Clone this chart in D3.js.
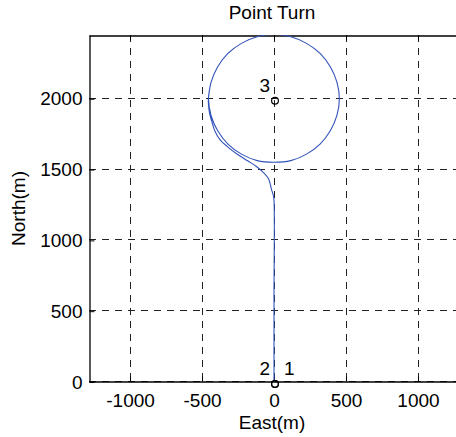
<!DOCTYPE html>
<html lang="en">

<head>
  <meta charset="UTF-8" />
  <title>Point Turn</title>
  <style>
    body { margin: 0; background: #fff; }
    text { font-family: "Liberation Sans", Arial, Helvetica, sans-serif; fill: #000; }
  </style>
  <script src="https://d3js.org/d3.v7.min.js"></script>
</head>

<body>
  <div id="chart"></div>

  <script>
    var w = 456;
    var h = 437;

    // track (metres)
    var approachEast = [0, 0, 0, -5, -16, -40, -80, -120, -180, -247, -310, -374, -410, -432, -448, -455, -456];
    var approachNorth = [0, 600, 1284, 1320, 1355, 1438, 1485, 1520, 1560, 1603, 1650, 1709, 1770, 1840, 1900, 1960, 2004];

    // the loop round waypoint 3, clockwise from the west side
    var loopEast = [-455, -437, -391, -320, -226, -117, 0, 117, 226, 320, 391, 437, 454, 437, 391, 320, 226, 117, 0, -117, -226, -320, -391, -437, -455, -450];
    var loopNorth = [2010, 2117, 2226, 2320, 2391, 2437, 2455, 2437, 2391, 2320, 2226, 2117, 2000, 1883, 1774, 1680, 1609, 1563, 1552, 1563, 1609, 1680, 1774, 1880, 2000, 2050];

    var wpNames = ["1", "2", "3"];
    var wpEast = [0, 0, 0];
    var wpNorth = [0, 0, 2000];

    var xTicks = [-1000, -500, 0, 500, 1000];
    var yTicks = [0, 500, 1000, 1500, 2000];

    var pLeft = 89, pTop = 35, pRight = 459, pBottom = 382;
    var fs = "19px";

    var x = d3.scaleLinear().domain([-1285, 1285]).range([pLeft, pRight]);
    var y = d3.scaleLinear().domain([0, 2450]).range([pBottom, pTop]);

    var svg = d3.select("#chart").append("svg")
      .attr("width", w)
      .attr("height", h);

    svg.append("clipPath").attr("id", "plotclip")
      .append("rect")
      .attr("x", pLeft).attr("y", pTop)
      .attr("width", pRight - pLeft).attr("height", pBottom - pTop);

    // grid
    svg.append("g").selectAll("line")
      .data(xTicks)
      .enter()
      .append("line")
      .attr("x1", function(d) { return Math.round(x(d)) + 0.5; })
      .attr("x2", function(d) { return Math.round(x(d)) + 0.5; })
      .attr("y1", pTop)
      .attr("y2", pBottom)
      .attr("stroke", "#222")
      .attr("stroke-dasharray", "7,6");

    svg.append("g").selectAll("line")
      .data(yTicks)
      .enter()
      .append("line")
      .attr("y1", function(d) { return Math.round(y(d)) - 0.5; })
      .attr("y2", function(d) { return Math.round(y(d)) - 0.5; })
      .attr("x1", pLeft)
      .attr("x2", pRight)
      .attr("stroke", "#222")
      .attr("stroke-dasharray", "7,6");

    // axes box
    var fmt = function(d) { return String(d); };
    var xAxis = d3.axisBottom(x).tickValues(xTicks).tickFormat(fmt).tickSizeInner(-5).tickSizeOuter(0).tickPadding(12);
    var yAxis = d3.axisLeft(y).tickValues(yTicks).tickFormat(fmt).tickSizeInner(-5).tickSizeOuter(0).tickPadding(7);

    var gx = svg.append("g").attr("transform", "translate(0," + (pBottom - 0.5) + ")").call(xAxis);
    var gy = svg.append("g").attr("transform", "translate(" + (pLeft + 0.5) + ",0)").call(yAxis);
    svg.append("g").attr("transform", "translate(0," + (pTop + 0.5) + ")")
      .call(d3.axisTop(x).tickValues(xTicks).tickSizeInner(-5).tickSizeOuter(0).tickFormat(""));

    svg.selectAll(".domain").attr("stroke", "#000").attr("stroke-width", 1.3);
    svg.selectAll(".tick line").attr("stroke", "#000");
    gx.selectAll("text").style("font-size", fs).attr("dy", "0.71em");
    gy.selectAll("text").style("font-size", fs);

    // track
    var line = d3.line()
      .x(function(d) { return x(d[0]); })
      .y(function(d) { return y(d[1]); })
      .curve(d3.curveCatmullRom);

    var track = d3.zip(approachEast, approachNorth).concat(d3.zip(loopEast, loopNorth));

    svg.append("path")
      .datum(track)
      .attr("clip-path", "url(#plotclip)")
      .attr("d", line)
      .attr("fill", "none")
      .attr("stroke", "#3152b8")
      .attr("stroke-width", 1.1);

    // waypoints
    var wps = d3.zip(wpNames, wpEast, wpNorth);

    svg.selectAll("circle.wp")
      .data(wps)
      .enter()
      .append("circle")
      .attr("class", "wp")
      .attr("cx", function(d) { return x(d[1]) + 1; })
      .attr("cy", function(d) { return y(d[2]) + 2; })
      .attr("r", 3.4)
      .attr("fill", "none")
      .attr("stroke", "#000")
      .attr("stroke-width", 1.2);

    svg.selectAll("text.wp")
      .data(wps)
      .enter()
      .append("text")
      .attr("class", "wp")
      .attr("x", function(d) { return d[0] == "1" ? x(d[1]) + 10 : x(d[1]) - 4; })
      .attr("y", function(d) { return y(d[2]) - 7; })
      .attr("text-anchor", function(d) { return d[0] == "1" ? "start" : "end"; })
      .style("font-size", fs)
      .text(function(d) { return d[0]; });

    // labels
    svg.append("text")
      .attr("x", 272).attr("y", 19)
      .attr("text-anchor", "middle")
      .style("font-size", fs)
      .text("Point Turn");

    svg.append("text")
      .attr("x", 272).attr("y", 429)
      .attr("text-anchor", "middle")
      .style("font-size", fs)
      .text("East(m)");

    svg.append("text")
      .attr("transform", "translate(25," + ((pTop + pBottom) / 2) + ") rotate(-90)")
      .attr("text-anchor", "middle")
      .style("font-size", fs)
      .text("North(m)");
  </script>

</body>

</html>
